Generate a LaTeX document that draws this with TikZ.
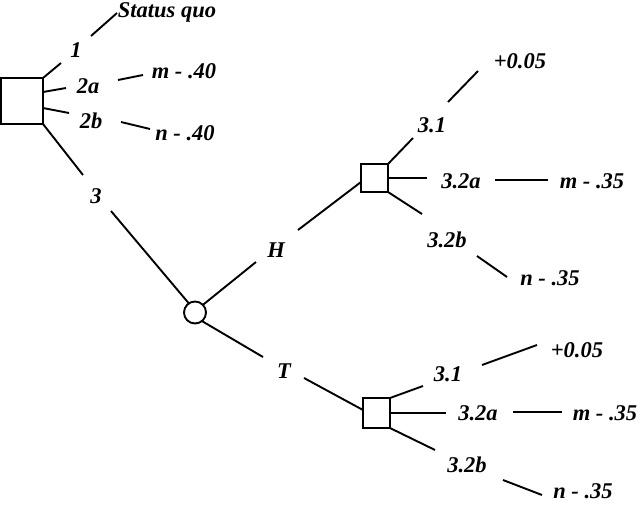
\documentclass[tikz,border=0pt]{standalone}
\usepackage{fontspec}
\setmainfont{Liberation Serif}
\begin{document}
\begin{tikzpicture}[x=1pt,y=-1pt,
  every path/.style={line width=1.9pt},
  lbl/.style={anchor=base,inner sep=0pt,text depth=0pt,font=\fontsize{22.5}{26}\selectfont\bfseries\itshape},
  dec/.style={draw,rectangle,inner sep=0pt,outer sep=0pt,line width=1.9pt},
  chance/.style={draw,circle,inner sep=0pt,outer sep=0pt,minimum size=22pt,line width=1.9pt}]
\useasboundingbox (0,0) rectangle (640,504);
% nodes
\node[dec,minimum width=42pt,minimum height=46pt] (sq1) at (22,101) {};
\node[dec,minimum width=27pt,minimum height=28pt] (Hsq) at (374.5,178) {};
\node[dec,minimum width=27pt,minimum height=30pt] (Tsq) at (376.5,413) {};
\node[chance] (ch) at (195,312.5) {};
% labels
\node[lbl] (l1) at (76,57) {1};
\node[lbl] (lsq) at (167,17.5) {Status quo};
\node[lbl] (l2a) at (88,93) {2a};
\node[lbl] (lm40) at (184,78) {m - .40};
\node[lbl] (l2b) at (91,128) {2b};
\node[lbl] (ln40) at (185,140) {n - .40};
\node[lbl] (l3) at (96,203) {3};
\node[lbl] (lH) at (276,257) {H};
\node[lbl] (lT) at (284,378) {T};
\node[lbl] (hp) at (520,68) {+0.05};
\node[lbl] (h31) at (432,132) {3.1};
\node[lbl] (h32a) at (461,188) {3.2a};
\node[lbl] (hm) at (592,188) {m - .35};
\node[lbl] (h32b) at (447,247) {3.2b};
\node[lbl] (hn) at (550,285) {n - .35};
\node[lbl] (tp) at (577,357) {+0.05};
\node[lbl] (t31) at (448,381) {3.1};
\node[lbl] (t32a) at (478,420) {3.2a};
\node[lbl] (tm) at (605,420) {m - .35};
\node[lbl] (t32b) at (467,472) {3.2b};
\node[lbl] (tn) at (583,498) {n - .35};
% connector end points
\coordinate (a1) at (61,63);
\coordinate (a2) at (91,36);
\coordinate (a3) at (117,13);
\coordinate (b0) at (43,92);
\coordinate (b1) at (66,88);
\coordinate (b2) at (118,80);
\coordinate (b3) at (143,75);
\coordinate (c0) at (43,108);
\coordinate (c1) at (69,113);
\coordinate (c2) at (121,122);
\coordinate (c3) at (150,129);
\coordinate (d1) at (83,175);
\coordinate (d2) at (111,211);
\coordinate (e1) at (256,262);
\coordinate (e2) at (298,230);
\coordinate (e3) at (361,182);
\coordinate (f1) at (263,357);
\coordinate (f2) at (304,378);
\coordinate (f3) at (363,410);
\coordinate (g1) at (413,138);
\coordinate (g2) at (448,102);
\coordinate (g3) at (478,71);
\coordinate (g4) at (427,178);
\coordinate (g5) at (495,180);
\coordinate (g6) at (548,180);
\coordinate (g7) at (422,214);
\coordinate (g8) at (477,256);
\coordinate (g9) at (507,277);
\coordinate (k1) at (423,386);
\coordinate (k2) at (482,365);
\coordinate (k3) at (537,345);
\coordinate (k4) at (446,413);
\coordinate (k5) at (513,412);
\coordinate (k6) at (562,412);
\coordinate (k7) at (435,450);
\coordinate (k8) at (503,480);
\coordinate (k9) at (542,495);
% connectors
\draw (sq1.north east) -- (a1);
\draw (a2) -- (a3);
\draw (b0) -- (b1);
\draw (b2) -- (b3);
\draw (c0) -- (c1);
\draw (c2) -- (c3);
\draw (sq1.south east) -- (d1);
\draw (d2) -- (ch.124);
\draw (ch.44) -- (e1);
\draw (e2) -- (e3);
\draw (ch.-51) -- (f1);
\draw (f2) -- (f3);
\draw (Hsq.north east) -- (g1);
\draw (g2) -- (g3);
\draw (Hsq.east) -- (g4);
\draw (g5) -- (g6);
\draw (Hsq.south east) -- (g7);
\draw (g8) -- (g9);
\draw (Tsq.north east) -- (k1);
\draw (k2) -- (k3);
\draw (Tsq.east) -- (k4);
\draw (k5) -- (k6);
\draw (Tsq.south east) -- (k7);
\draw (k8) -- (k9);
\end{tikzpicture}
\end{document}
